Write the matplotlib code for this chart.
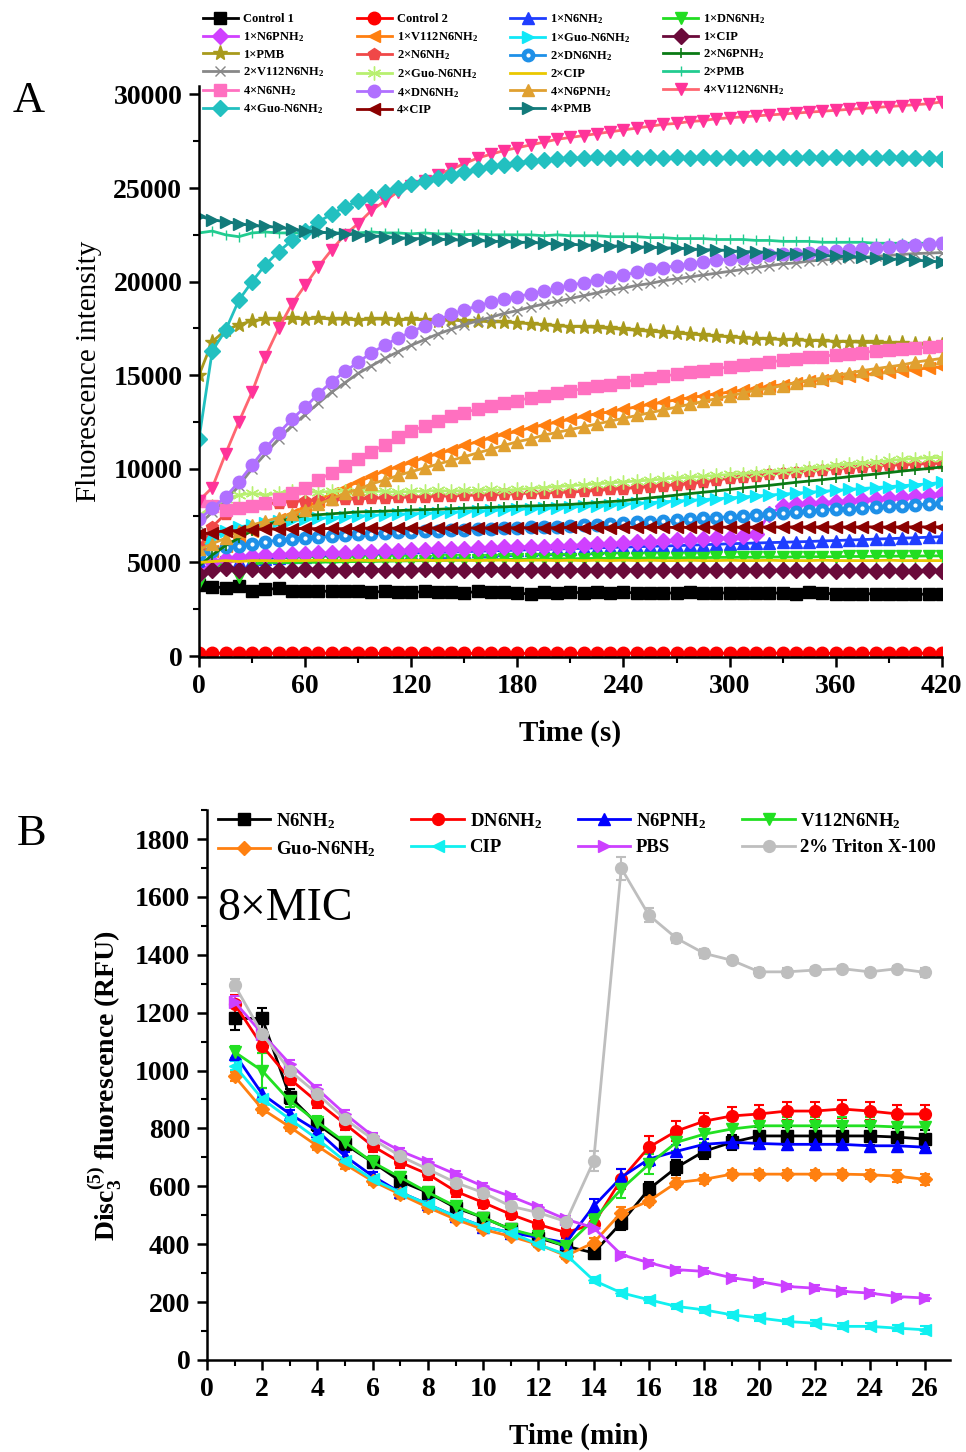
import numpy as np
import matplotlib
matplotlib.use('Agg')
import matplotlib.pyplot as plt
from matplotlib.ticker import MultipleLocator

plt.rcParams['font.family'] = ['Liberation Serif', 'DejaVu Serif']
plt.rcParams['mathtext.fontset'] = 'custom'
plt.rcParams['mathtext.rm'] = 'Liberation Serif'
plt.rcParams['mathtext.bf'] = 'Liberation Serif:bold'
plt.rcParams['mathtext.it'] = 'Liberation Serif:italic'

# ---------------- panel A data (time every 7.5 s) ----------------
time_a = np.arange(0, 420.1, 7.5)

control_1 = [
    3800, 3700, 3650, 3720, 3480, 3560, 3620, 3450, 3450, 3460,
    3470, 3450, 3480, 3420, 3450, 3440, 3400, 3450, 3420, 3400,
    3380, 3450, 3420, 3400, 3380, 3300, 3420, 3380, 3400, 3390,
    3420, 3380, 3400, 3380, 3350, 3360, 3380, 3400, 3350, 3380,
    3370, 3360, 3350, 3380, 3360, 3340, 3420, 3350, 3330, 3340,
    3320, 3340, 3330, 3300, 3310, 3300, 3300]
control_2 = [
    150, 160, 150, 140, 150, 160, 150, 150, 140, 150,
    160, 150, 150, 150, 140, 150, 160, 150, 150, 150,
    140, 150, 160, 150, 150, 140, 150, 150, 160, 150,
    150, 140, 150, 160, 150, 150, 150, 140, 150, 160,
    150, 150, 140, 150, 160, 150, 150, 140, 150, 160,
    150, 150, 140, 150, 160, 150, 150]
n6_1 = [
    5100, 5000, 5050, 5100, 5150, 5200, 5250, 5280, 5300, 5330,
    5350, 5380, 5400, 5420, 5450, 5470, 5500, 5520, 5540, 5560,
    5580, 5600, 5620, 5640, 5660, 5680, 5700, 5720, 5740, 5760,
    5780, 5800, 5820, 5840, 5860, 5880, 5900, 5920, 5950, 5970,
    6000, 6020, 6040, 6060, 6080, 6100, 6120, 6150, 6170, 6200,
    6220, 6250, 6270, 6300, 6320, 6350, 6380]
dn6_1 = [
    3900, 4700, 5000, 4200, 4900, 5000, 5000, 5000, 5000, 5020,
    5030, 5040, 5050, 5060, 5070, 5080, 5090, 5100, 5110, 5120,
    5130, 5140, 5150, 5160, 5170, 5180, 5190, 5200, 5200, 5210,
    5220, 5220, 5230, 5240, 5240, 5250, 5250, 5260, 5260, 5270,
    5270, 5280, 5280, 5290, 5290, 5300, 5300, 5310, 5310, 5320,
    5320, 5330, 5330, 5340, 5340, 5350, 5350]
n6p_1 = [
    4400, 5000, 5200, 5300, 5350, 5400, 5400, 5450, 5450, 5500,
    5500, 5500, 5550, 5550, 5600, 5600, 5650, 5650, 5700, 5700,
    5700, 5750, 5750, 5800, 5800, 5850, 5850, 5900, 5900, 5950,
    6000, 6000, 6050, 6100, 6100, 6150, 6200, 6200, 6250, 6300,
    6300, 6400, 6500, 7600, 8000, 8100, 8150, 8200, 8250, 8300,
    8350, 8400, 8450, 8500, 8550, 8600, 8650]
v112_1 = [
    5800, 5600, 5900, 6300, 6700, 7000, 7300, 7600, 7900, 8300,
    8700, 9000, 9300, 9600, 9900, 10100, 10350, 10600, 10800, 11000,
    11250, 11450, 11650, 11850, 12000, 12200, 12350, 12500, 12650, 12800,
    12950, 13050, 13200, 13300, 13450, 13550, 13700, 13800, 13900, 14000,
    14100, 14200, 14300, 14400, 14500, 14600, 14700, 14750, 14850, 14950,
    15000, 15100, 15150, 15250, 15300, 15400, 15450]
guo_1 = [
    5600, 6300, 6700, 6900, 7000, 7100, 7200, 7250, 7300, 7350,
    7400, 7450, 7480, 7520, 7550, 7580, 7600, 7630, 7660, 7690,
    7720, 7750, 7780, 7810, 7840, 7870, 7900, 7930, 7960, 8000,
    8040, 8080, 8120, 8160, 8200, 8240, 8280, 8320, 8360, 8400,
    8450, 8500, 8550, 8600, 8650, 8700, 8750, 8800, 8850, 8900,
    8950, 9000, 9050, 9100, 9150, 9200, 9280]
cip_1 = [
    4400, 4600, 4700, 4600, 4650, 4600, 4620, 4600, 4650, 4600,
    4620, 4600, 4650, 4620, 4600, 4620, 4600, 4650, 4620, 4600,
    4620, 4600, 4650, 4620, 4600, 4620, 4600, 4600, 4620, 4600,
    4620, 4600, 4600, 4620, 4600, 4600, 4580, 4600, 4600, 4580,
    4600, 4580, 4600, 4580, 4580, 4600, 4580, 4580, 4560, 4580,
    4580, 4560, 4580, 4560, 4560, 4580, 4560]
pmb_1 = [
    15000, 16800, 17400, 17700, 17900, 18000, 18000, 18050, 18000, 18050,
    18000, 18000, 17950, 18000, 18000, 17950, 18000, 17950, 17900, 17950,
    17900, 17900, 17850, 17850, 17800, 17750, 17700, 17650, 17600, 17600,
    17550, 17500, 17450, 17400, 17350, 17300, 17250, 17200, 17150, 17100,
    17050, 17000, 16950, 16950, 16900, 16900, 16850, 16850, 16800, 16800,
    16750, 16750, 16700, 16700, 16650, 16650, 16600]
n6_2 = [
    5800, 6900, 7600, 7900, 8000, 8100, 8200, 8250, 8300, 8320,
    8350, 8380, 8400, 8420, 8450, 8480, 8500, 8520, 8540, 8560,
    8580, 8600, 8620, 8650, 8680, 8700, 8720, 8740, 8760, 8800,
    8850, 8900, 8950, 9000, 9050, 9100, 9150, 9200, 9300, 9400,
    9500, 9550, 9600, 9700, 9800, 9850, 9900, 9950, 10000, 10050,
    10100, 10150, 10200, 10220, 10250, 10280, 10300]
dn6_2 = [
    5400, 5600, 5800, 5900, 6000, 6100, 6200, 6250, 6300, 6350,
    6400, 6450, 6500, 6530, 6570, 6610, 6650, 6670, 6690, 6720,
    6750, 6770, 6800, 6820, 6850, 6870, 6900, 6920, 6950, 6980,
    7020, 7060, 7100, 7140, 7180, 7220, 7250, 7300, 7350, 7400,
    7450, 7500, 7550, 7600, 7650, 7700, 7750, 7800, 7850, 7880,
    7920, 7960, 8000, 8040, 8080, 8120, 8150]
n6p_2 = [
    4800, 5400, 5900, 6300, 6700, 7000, 7200, 7350, 7500, 7550,
    7600, 7650, 7700, 7720, 7740, 7770, 7800, 7820, 7840, 7870,
    7900, 7920, 7940, 7970, 8000, 8020, 8040, 8070, 8100, 8150,
    8200, 8250, 8300, 8380, 8450, 8520, 8600, 8680, 8750, 8820,
    8900, 8980, 9050, 9120, 9200, 9280, 9350, 9420, 9500, 9580,
    9650, 9720, 9800, 9880, 9950, 10020, 10100]
v112_2 = [
    7000, 7700, 8300, 9100, 10000, 10800, 11600, 12300, 12900, 13500,
    14100, 14600, 15100, 15500, 15900, 16250, 16600, 16900, 17200, 17450,
    17700, 17900, 18100, 18300, 18450, 18650, 18800, 18950, 19100, 19250,
    19400, 19550, 19650, 19800, 19900, 20050, 20150, 20250, 20350, 20450,
    20550, 20650, 20750, 20850, 20950, 21000, 21100, 21150, 21200, 21250,
    21300, 21350, 21400, 21450, 21500, 21520, 21550]
guo_2 = [
    7500, 8000, 8400, 8600, 8700, 8600, 8700, 8800, 8800, 8750,
    8800, 8800, 8750, 8800, 8800, 8750, 8800, 8800, 8850, 8800,
    8850, 8850, 8900, 8850, 8900, 8950, 9000, 9050, 9100, 9150,
    9200, 9250, 9300, 9350, 9400, 9450, 9500, 9550, 9600, 9650,
    9700, 9750, 9800, 9850, 9900, 9950, 10050, 10100, 10200, 10250,
    10300, 10350, 10450, 10500, 10550, 10600, 10600]
cip_2 = [
    5000, 5050, 5100, 5050, 5100, 5100, 5080, 5100, 5100, 5120,
    5100, 5100, 5120, 5100, 5120, 5100, 5120, 5120, 5100, 5120,
    5120, 5100, 5120, 5120, 5100, 5120, 5120, 5100, 5120, 5100,
    5120, 5100, 5120, 5100, 5120, 5100, 5100, 5120, 5100, 5100,
    5120, 5100, 5100, 5120, 5100, 5100, 5100, 5120, 5100, 5100,
    5100, 5100, 5120, 5100, 5100, 5100, 5100]
pmb_2 = [
    22600, 22700, 22500, 22400, 22600, 22650, 22600, 22600, 22600, 22650,
    22600, 22600, 22600, 22650, 22600, 22600, 22550, 22600, 22550, 22550,
    22500, 22550, 22500, 22500, 22500, 22500, 22450, 22500, 22450, 22450,
    22450, 22400, 22400, 22400, 22350, 22350, 22300, 22300, 22300, 22250,
    22250, 22250, 22200, 22200, 22150, 22150, 22150, 22100, 22100, 22100,
    22100, 22050, 22050, 22050, 22050, 22050, 22050]
n6_4 = [
    8300, 8000, 7800, 7900, 8000, 8200, 8400, 8700, 9000, 9400,
    9800, 10150, 10500, 10900, 11300, 11700, 12000, 12300, 12550, 12800,
    13000, 13200, 13350, 13500, 13650, 13800, 13900, 14050, 14150, 14300,
    14400, 14500, 14650, 14750, 14850, 14950, 15050, 15150, 15250, 15350,
    15450, 15550, 15600, 15700, 15800, 15850, 15950, 16000, 16100, 16150,
    16200, 16300, 16350, 16400, 16450, 16500, 16550]
dn6_4 = [
    7300, 7900, 8500, 9300, 10200, 11100, 11900, 12650, 13300, 14000,
    14650, 15200, 15700, 16200, 16600, 17000, 17300, 17650, 17950, 18250,
    18500, 18700, 18900, 19050, 19200, 19350, 19500, 19650, 19800, 19950,
    20100, 20250, 20350, 20500, 20650, 20750, 20850, 20950, 21050, 21150,
    21200, 21250, 21300, 21400, 21450, 21500, 21550, 21600, 21650, 21700,
    21750, 21800, 21850, 21900, 21950, 22000, 22050]
n6p_4 = [
    5700, 6000, 6300, 6700, 7000, 7200, 7400, 7600, 7800, 8100,
    8400, 8700, 8900, 9200, 9400, 9650, 9850, 10050, 10250, 10450,
    10650, 10850, 11050, 11250, 11450, 11600, 11800, 11950, 12100, 12250,
    12400, 12550, 12700, 12850, 13000, 13150, 13300, 13450, 13600, 13750,
    13900, 14050, 14200, 14300, 14450, 14600, 14750, 14850, 15000, 15100,
    15250, 15350, 15450, 15550, 15700, 15800, 15900]
v112_4 = [
    8300, 9000, 10800, 12500, 14100, 16000, 17500, 18800, 19800, 20800,
    21700, 22500, 23100, 23800, 24300, 24800, 25100, 25400, 25700, 26000,
    26300, 26600, 26800, 27000, 27150, 27300, 27450, 27600, 27700, 27800,
    27900, 28000, 28100, 28200, 28300, 28400, 28450, 28550, 28600, 28700,
    28750, 28800, 28850, 28900, 28950, 29000, 29050, 29100, 29150, 29200,
    29250, 29300, 29350, 29400, 29450, 29500, 29600]
guo_4 = [
    11600, 16300, 17400, 19000, 20000, 20900, 21600, 22200, 22700, 23200,
    23600, 24000, 24300, 24500, 24800, 25000, 25200, 25400, 25550, 25700,
    25850, 26000, 26150, 26250, 26350, 26450, 26500, 26550, 26600, 26600,
    26650, 26600, 26650, 26600, 26650, 26600, 26650, 26600, 26650, 26600,
    26650, 26600, 26650, 26600, 26650, 26600, 26650, 26600, 26650, 26600,
    26650, 26600, 26650, 26600, 26600, 26600, 26550]
cip_4 = [
    6500, 6600, 6700, 6700, 6750, 6800, 6780, 6800, 6820, 6800,
    6820, 6800, 6820, 6840, 6820, 6840, 6820, 6840, 6850, 6840,
    6850, 6840, 6850, 6860, 6850, 6860, 6850, 6860, 6870, 6860,
    6870, 6860, 6870, 6880, 6870, 6880, 6870, 6880, 6890, 6880,
    6890, 6880, 6890, 6900, 6890, 6900, 6890, 6900, 6900, 6890,
    6900, 6900, 6890, 6900, 6900, 6900, 6900]
pmb_4 = [
    23500, 23300, 23200, 23100, 23000, 22950, 22900, 22800, 22700, 22650,
    22600, 22550, 22500, 22450, 22400, 22350, 22300, 22300, 22250, 22250,
    22200, 22200, 22150, 22150, 22100, 22100, 22050, 22000, 22000, 21950,
    21950, 21900, 21900, 21850, 21850, 21800, 21800, 21750, 21700, 21700,
    21650, 21600, 21600, 21550, 21500, 21500, 21450, 21400, 21350, 21350,
    21300, 21250, 21200, 21200, 21150, 21100, 21050]

# ---------------- panel B data (time in min) ----------------
time_b = list(range(1, 27))
n6 = [1180, 1180, 910, 815, 745, 683, 618, 578, 526, 492, 451, 422, 393,
      370, 474, 590, 665, 721, 752, 774, 774, 774, 774, 774, 770, 763]
dn6 = [1230, 1085, 971, 891, 815, 739, 683, 642, 583, 544, 503, 468, 440,
       470, 624, 735, 791, 825, 843, 850, 860, 860, 867, 860, 850, 850]
n6p = [1058, 919, 850, 791, 704, 635, 579, 538, 496, 461, 440, 423, 405,
       531, 631, 694, 721, 745, 752, 748, 745, 745, 745, 740, 740, 735]
v112 = [1064, 999, 895, 822, 752, 683, 631, 579, 531, 492, 451, 427, 393,
        485, 590, 676, 752, 780, 798, 809, 809, 809, 809, 809, 805, 805]
guo = [980, 867, 805, 739, 676, 618, 572, 527, 486, 451, 427, 399, 360,
       405, 509, 549, 613, 624, 642, 642, 642, 642, 642, 640, 635, 624]
cip = [1017, 902, 832, 763, 687, 624, 579, 538, 496, 461, 440, 399, 364,
       275, 232, 208, 185, 173, 156, 145, 133, 127, 116, 116, 110, 104]
pbs = [1237, 1127, 1023, 936, 850, 774, 722, 683, 642, 600, 565, 527, 486,
       457, 364, 336, 312, 306, 284, 271, 254, 248, 237, 231, 219, 214]
triton = [1295, 1127, 999, 919, 832, 763, 704, 659, 613, 578, 531, 509, 478,
          687, 1699, 1537, 1457, 1405, 1381, 1341, 1341, 1347, 1352, 1341, 1352, 1339]

n6_err = [40, 35, 25, 25, 20, 20, 20, 20, 15, 15, 15, 15, 15,
          20, 25, 25, 25, 25, 25, 30, 30, 30, 30, 30, 30, 30]
dn6_err = [30, 25, 20, 20, 20, 20, 20, 20, 20, 20, 15, 15, 15,
           20, 35, 40, 35, 30, 30, 30, 30, 30, 30, 30, 30, 30]
n6p_err = [25, 20, 15, 15, 15, 15, 15, 15, 15, 15, 15, 15, 15,
           25, 30, 25, 20, 20, 20, 20, 20, 20, 20, 20, 20, 20]
v112_err = [20, 60, 20, 20, 20, 20, 20, 15, 15, 15, 15, 15, 15,
            20, 30, 35, 30, 30, 30, 30, 30, 30, 30, 30, 30, 30]
guo_err = [15, 15, 15, 15, 15, 15, 15, 15, 10, 10, 10, 10, 10,
           15, 20, 15, 15, 15, 15, 15, 15, 15, 15, 15, 20, 20]
cip_err = [15, 10, 10, 10, 10, 10, 10, 10, 10, 10, 10, 10, 10,
           10, 10, 10, 10, 10, 10, 10, 10, 10, 10, 10, 10, 15]
pbs_err = [20, 15, 15, 15, 15, 10, 10, 10, 10, 10, 10, 10, 10,
           10, 10, 10, 10, 10, 10, 10, 10, 10, 10, 10, 10, 10]
triton_err = [20, 15, 15, 15, 15, 15, 10, 10, 10, 10, 10, 10, 15,
              35, 40, 25, 15, 15, 10, 15, 15, 10, 10, 10, 10, 15]

sub2 = r'$_\mathbf{2}$'

fig = plt.figure(figsize=(9.66, 14.52), dpi=100)

# ======================= panel A =======================
axA = fig.add_axes([0.206, 0.5475, 0.769, 0.3933])

# (label, values, color, marker, markersize, extra)
series_a = [
    ('Control 1', control_1, 'black', 's', 8, {}),
    ('Control 2', control_2, '#FF0000', 'o', 9, {}),
    ('1×N6NH' + sub2, n6_1, '#1F3DFF', '^', 9, {}),
    ('1×DN6NH' + sub2, dn6_1, '#22DD22', 'v', 9, {}),
    ('1×N6PNH' + sub2, n6p_1, '#D040FF', 'D', 8, {}),
    ('1×V112N6NH' + sub2, v112_1, '#FF7F10', '<', 9, {}),
    ('1×Guo-N6NH' + sub2, guo_1, '#10E8F8', '>', 9, {}),
    ('1×CIP', cip_1, '#6A0A3A', 'D', 8, {}),
    ('1×PMB', pmb_1, '#A89A1C', '*', 11, {}),
    ('2×N6NH' + sub2, n6_2, '#F04848', 'p', 9, {}),
    ('2×DN6NH' + sub2, dn6_2, '#1E90E8', 'o', 9, {}),
    ('2×N6PNH' + sub2, n6p_2, '#0A7A14', '|', 7, {'markeredgewidth': 1.2}),
    ('2×V112N6NH' + sub2, v112_2, '#888888', 'x', 7, {'markeredgewidth': 1.0}),
    ('2×Guo-N6NH' + sub2, guo_2, '#B8F070', (6, 2, 0), 10, {'markeredgewidth': 1.0}),
    ('2×CIP', cip_2, '#EAC800', None, 0, {}),
    ('2×PMB', pmb_2, '#22CC90', '|', 7, {'markeredgewidth': 1.0}),
    ('4×N6NH' + sub2, n6_4, '#FF70C0', 's', 8, {}),
    ('4×DN6NH' + sub2, dn6_4, '#B070FF', 'o', 9, {}),
    ('4×N6PNH' + sub2, n6p_4, '#E0A030', '^', 9, {}),
    ('4×V112N6NH' + sub2, v112_4, '#FF6670', 'v', 9,
     {'markerfacecolor': '#FF3399', 'markeredgecolor': '#FF3399'}),
    ('4×Guo-N6NH' + sub2, guo_4, '#22C0C0', 'D', 8, {}),
    ('4×CIP', cip_4, '#8B0000', '<', 9, {}),
    ('4×PMB', pmb_4, '#127A7A', '>', 9, {}),
]

handles_a = []
for label, vals, color, marker, ms, extra in series_a:
    kw = dict(color=color, lw=2, label=label)
    if marker is not None:
        kw.update(marker=marker, markersize=ms)
    kw.update(extra)
    line, = axA.plot(time_a, vals, **kw)
    if label.startswith('2×DN6'):
        dots, = axA.plot(time_a, vals, ls='none', marker='o', markersize=2,
                         color='white')
        handles_a.append((line, dots))
    else:
        handles_a.append(line)

labels_a = [s[0] for s in series_a]

# legend filled row by row (4 columns)
ncol = 4
order = []
for c in range(ncol):
    order += list(range(c, len(labels_a), ncol))
axA.legend([handles_a[i] for i in order], [labels_a[i] for i in order],
           ncol=ncol, loc='upper left', bbox_to_anchor=(0.21, 0.9915),
           bbox_transform=fig.transFigure, frameon=False,
           prop={'size': 9, 'weight': 'bold'}, handlelength=2.8,
           handletextpad=0.4, columnspacing=2.6, labelspacing=0.38,
           borderpad=0, borderaxespad=0, numpoints=1)

axA.set_xlim(0, 420)
axA.set_ylim(-50, 30450)
axA.set_xticks(range(0, 421, 60))
axA.set_yticks(range(0, 30001, 5000))
axA.xaxis.set_minor_locator(MultipleLocator(30))
axA.yaxis.set_minor_locator(MultipleLocator(2500))
axA.set_xlabel('Time (s)', fontsize=21, fontweight='bold', labelpad=15)
axA.set_ylabel('Fluorescence intensity', fontsize=21, labelpad=8)

# ======================= panel B =======================
axB = fig.add_axes([0.2143, 0.0634, 0.769, 0.3787])

series_b = [
    ('N6NH' + sub2, n6, n6_err, 'black', 's'),
    ('DN6NH' + sub2, dn6, dn6_err, '#FF0000', 'o'),
    ('N6PNH' + sub2, n6p, n6p_err, '#0000FF', '^'),
    ('V112N6NH' + sub2, v112, v112_err, '#22E022', 'v'),
    ('Guo-N6NH' + sub2, guo, guo_err, '#FF8010', 'D'),
    ('CIP', cip, cip_err, '#10F0F0', '<'),
    ('PBS', pbs, pbs_err, '#CC40FF', '>'),
    ('2% Triton X-100', triton, triton_err, '#BEBEBE', 'o'),
]

handles_b = []
for label, vals, err, color, marker in series_b:
    ms = 7.5 if marker == 'D' else 8.5
    eb = axB.errorbar(time_b, vals, yerr=err, color=color, marker=marker,
                      markersize=ms, lw=2, elinewidth=1.5, capsize=3.5,
                      capthick=1.5, label=label)
    handles_b.append(eb.lines[0])

labels_b = [s[0] for s in series_b]
order_b = []
for c in range(4):
    order_b += list(range(c, len(labels_b), 4))
axB.legend([handles_b[i] for i in order_b], [labels_b[i] for i in order_b],
           ncol=4, loc='upper left', bbox_to_anchor=(0.2255, 0.4415),
           bbox_transform=fig.transFigure, frameon=False,
           prop={'size': 13.5, 'weight': 'bold'}, handlelength=2.8,
           handletextpad=0.3, columnspacing=1.9, labelspacing=0.45,
           borderpad=0, borderaxespad=0, numpoints=1)

axB.set_xlim(0, 26.9)
axB.set_ylim(0, 1900)
axB.set_xticks(range(0, 27, 2))
axB.set_yticks(range(0, 1801, 200))
axB.xaxis.set_minor_locator(MultipleLocator(1))
axB.yaxis.set_minor_locator(MultipleLocator(100))
axB.set_xlabel('Time (min)', fontsize=21, fontweight='bold', labelpad=15)
axB.set_ylabel(r'Disc$_\mathbf{3}^\mathbf{(5)}$ fluorescence (RFU)',
               fontsize=20, fontweight='bold', labelpad=8)
axB.text(0.014, 0.80, '8×MIC', transform=axB.transAxes, fontsize=33)

for ax in (axA, axB):
    for side in ('top', 'right'):
        ax.spines[side].set_visible(False)
    for side in ('left', 'bottom'):
        ax.spines[side].set_linewidth(1.8)
    ax.tick_params(which='major', direction='out', length=7, width=1.8,
                   labelsize=20, pad=5)
    ax.tick_params(which='minor', direction='out', length=4, width=1.5)
    plt.setp(ax.get_xticklabels(), fontweight='bold')
    plt.setp(ax.get_yticklabels(), fontweight='bold')

fig.text(0.013, 0.923, 'A', fontsize=32)
fig.text(0.017, 0.418, 'B', fontsize=32)

fig.savefig('out.png', dpi=100)
